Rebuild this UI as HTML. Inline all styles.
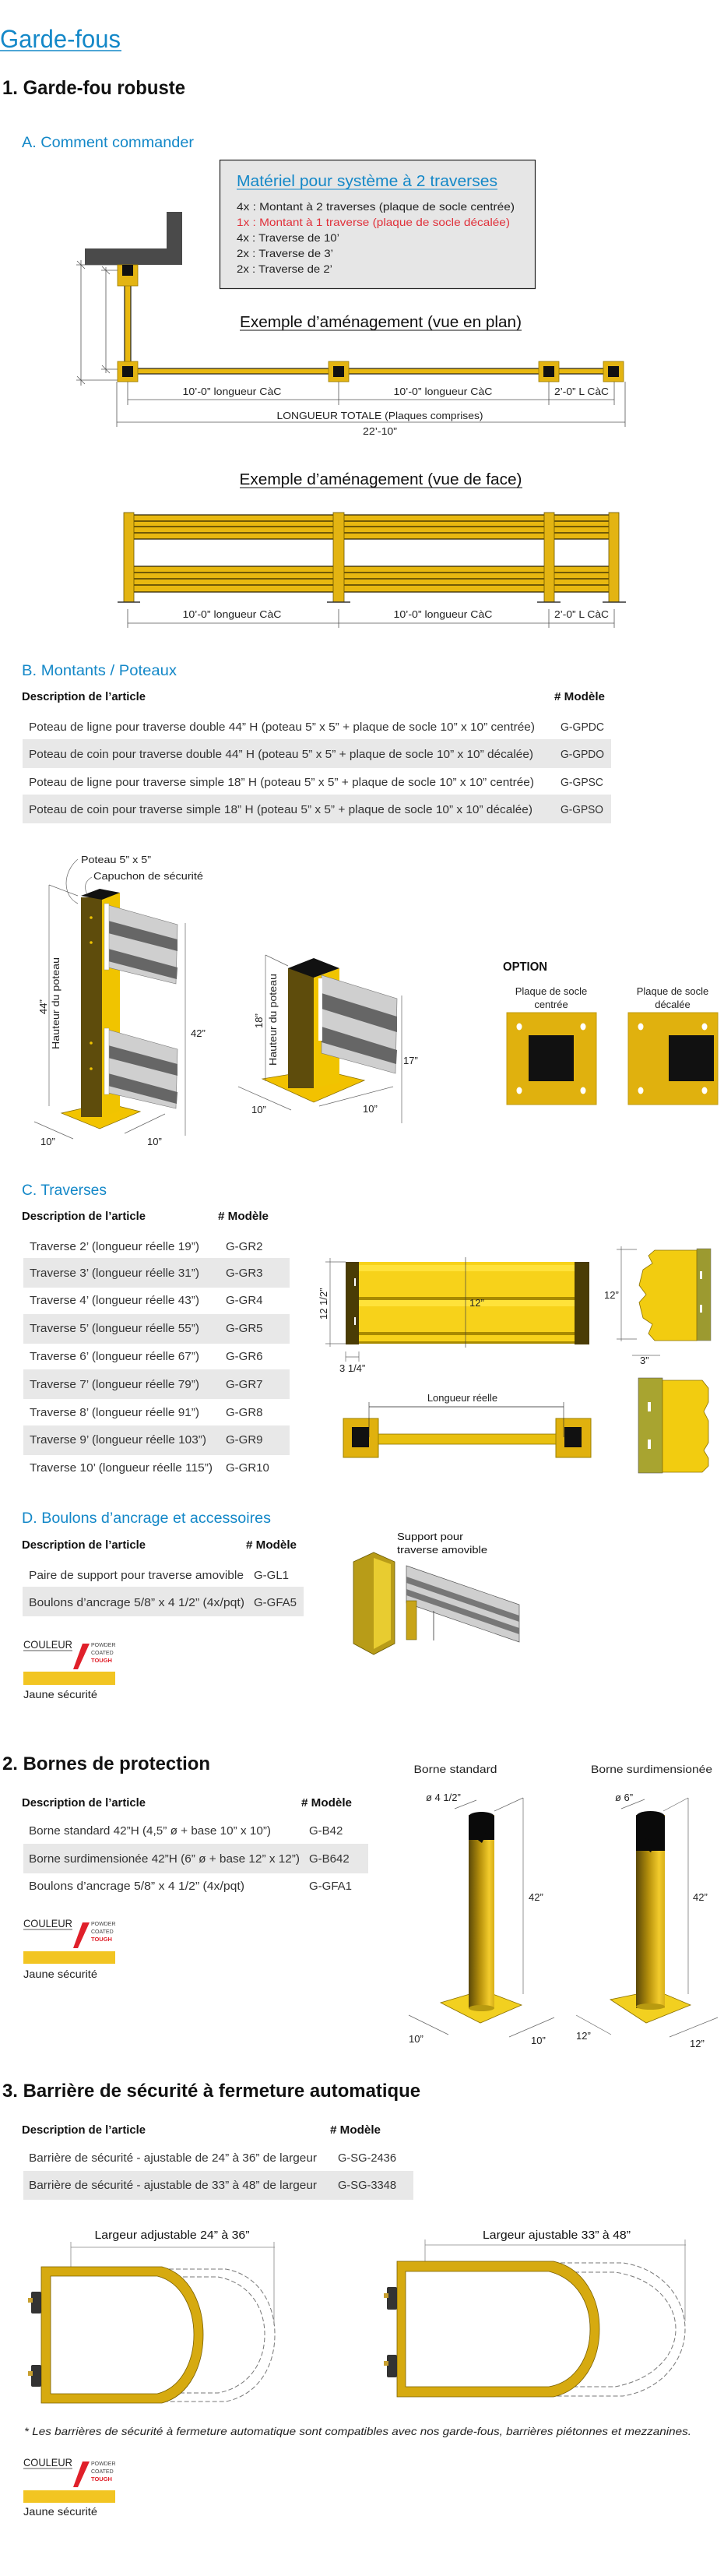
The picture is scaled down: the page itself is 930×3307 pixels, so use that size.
<!DOCTYPE html>
<html><head><meta charset="utf-8"><style>
html,body{margin:0;padding:0;background:#fff;}
svg{display:block;}
.b{font-weight:bold;fill:#111;}
.t{fill:#333;}
.h{fill:#1488c8;}
</style></head><body>
<svg width="930" height="3307" viewBox="0 0 930 3307" xmlns="http://www.w3.org/2000/svg" font-family="Liberation Sans, sans-serif">
<defs>
<linearGradient id="pole" x1="0" x2="1" y1="0" y2="0"><stop offset="0" stop-color="#5a4808"/><stop offset="0.45" stop-color="#b8920c"/><stop offset="0.8" stop-color="#f2cb2c"/><stop offset="1" stop-color="#d8b018"/></linearGradient>
<linearGradient id="grey" x1="0" x2="0" y1="0" y2="1"><stop offset="0" stop-color="#d8d8d8"/><stop offset="0.3" stop-color="#8a8a8a"/><stop offset="0.5" stop-color="#e0e0e0"/><stop offset="0.8" stop-color="#7a7a7a"/><stop offset="1" stop-color="#bbb"/></linearGradient>
</defs>

<!-- Title -->
<text x="0" y="61" font-size="32" class="h" textLength="155" lengthAdjust="spacingAndGlyphs">Garde-fous</text>
<line x1="0" x2="156" y1="65" y2="65" stroke="#1488c8" stroke-width="1.5"/>
<text x="3" y="121" font-size="25" class="b" textLength="235" lengthAdjust="spacingAndGlyphs">1. Garde-fou robuste</text>
<text x="28" y="189" font-size="19" class="h" textLength="221" lengthAdjust="spacingAndGlyphs">A. Comment commander</text>

<!-- Box -->
<rect x="282.5" y="205.5" width="405" height="165" fill="#e6e6e6" stroke="#222" stroke-width="1.2"/>
<text x="304" y="239" font-size="20" class="h" textLength="335" lengthAdjust="spacingAndGlyphs">Matériel pour système à 2 traverses</text>
<line x1="304" x2="639" y1="243" y2="243" stroke="#1488c8" stroke-width="1"/>
<g font-size="14" fill="#222">
<text x="304" y="270" textLength="357" lengthAdjust="spacingAndGlyphs">4x : Montant à 2 traverses (plaque de socle centrée)</text>
<text x="304" y="290" fill="#e0303a" textLength="351" lengthAdjust="spacingAndGlyphs">1x : Montant à 1 traverse (plaque de socle décalée)</text>
<text x="304" y="310" textLength="132" lengthAdjust="spacingAndGlyphs">4x : Traverse de 10’</text>
<text x="304" y="330" textLength="124" lengthAdjust="spacingAndGlyphs">2x : Traverse de 3’</text>
<text x="304" y="350" textLength="123" lengthAdjust="spacingAndGlyphs">2x : Traverse de 2’</text>
</g>

<!-- Plan view -->
<polygon points="109,319 214,319 214,272 234,272 234,340 109,340" fill="#4a4a4a"/>
<g stroke="#555" stroke-width="0.8" fill="none">
<line x1="104" y1="334" x2="104" y2="495"/><line x1="98" y1="340" x2="160" y2="340"/><line x1="98" y1="488" x2="160" y2="488"/>
<line x1="99" y1="335" x2="109" y2="345"/><line x1="99" y1="483" x2="109" y2="493"/>
<line x1="136" y1="343" x2="136" y2="479"/><line x1="130" y1="347" x2="160" y2="347"/><line x1="130" y1="474" x2="160" y2="474"/>
<line x1="131" y1="342" x2="141" y2="352"/><line x1="131" y1="469" x2="141" y2="479"/>
<line x1="164" y1="513" x2="789" y2="513"/>
<line x1="164" y1="490" x2="164" y2="520"/><line x1="435" y1="490" x2="435" y2="520"/><line x1="705" y1="490" x2="705" y2="520"/><line x1="789" y1="490" x2="789" y2="520"/>
<line x1="150" y1="542" x2="803" y2="542"/><line x1="150" y1="490" x2="150" y2="548"/><line x1="803" y1="490" x2="803" y2="548"/>
</g>
<rect x="160" y="353" width="8" height="124" fill="#e8b810" stroke="#222" stroke-width="1.2"/>
<rect x="164" y="473" width="624" height="7" fill="#e8b810" stroke="#222" stroke-width="1.2"/>
<g fill="#e3b412" stroke="#9a7a00" stroke-width="0.8">
<rect x="151" y="340" width="26" height="27"/>
<rect x="151" y="464" width="26" height="26"/>
<rect x="422" y="464" width="26" height="26"/>
<rect x="692" y="464" width="26" height="26"/>
<rect x="775" y="464" width="26" height="26"/>
</g>
<g fill="#111">
<rect x="157" y="340" width="14" height="14"/>
<rect x="157" y="470" width="14" height="14"/>
<rect x="428" y="470" width="14" height="14"/>
<rect x="698" y="470" width="14" height="14"/>
<rect x="781" y="470" width="14" height="14"/>
</g>
<g font-size="13" fill="#222" text-anchor="middle">
<text x="298" y="507" textLength="127" lengthAdjust="spacingAndGlyphs">10’-0” longueur CàC</text>
<text x="569" y="507" textLength="127" lengthAdjust="spacingAndGlyphs">10’-0” longueur CàC</text>
<text x="747" y="507" textLength="70" lengthAdjust="spacingAndGlyphs">2’-0” L CàC</text>
<text x="488" y="538" textLength="265" lengthAdjust="spacingAndGlyphs">LONGUEUR TOTALE (Plaques comprises)</text>
<text x="488" y="558" textLength="44" lengthAdjust="spacingAndGlyphs">22’-10”</text>
</g>
<text x="489" y="420" font-size="20" fill="#111" text-anchor="middle" textLength="362" lengthAdjust="spacingAndGlyphs">Exemple d’aménagement (vue en plan)</text>
<line x1="308" x2="670" y1="424" y2="424" stroke="#111"/>
<text x="489" y="622" font-size="20" fill="#111" text-anchor="middle" textLength="363" lengthAdjust="spacingAndGlyphs">Exemple d’aménagement (vue de face)</text>
<line x1="308" x2="671" y1="626" y2="626" stroke="#111"/>

<!-- Face view -->
<g>
<rect x="172" y="661" width="610" height="31" fill="#e8b810"/>
<rect x="172" y="727" width="610" height="33" fill="#e8b810"/>
<g stroke="#2a2200" stroke-width="1.2">
<line x1="172" x2="782" y1="661" y2="661"/><line x1="172" x2="782" y1="669" y2="669"/><line x1="172" x2="782" y1="676" y2="676"/><line x1="172" x2="782" y1="684" y2="684"/><line x1="172" x2="782" y1="692" y2="692"/>
<line x1="172" x2="782" y1="727" y2="727"/><line x1="172" x2="782" y1="735" y2="735"/><line x1="172" x2="782" y1="743" y2="743"/><line x1="172" x2="782" y1="751" y2="751"/><line x1="172" x2="782" y1="760" y2="760"/>
</g>
<g fill="#e3b412" stroke="#6a5500" stroke-width="0.8">
<rect x="159" y="658" width="13" height="115"/><rect x="428" y="658" width="14" height="115"/><rect x="699" y="658" width="13" height="115"/><rect x="782" y="658" width="13" height="115"/>
</g>
<g stroke="#333" stroke-width="1.5"><line x1="151" x2="180" y1="773" y2="773"/><line x1="420" x2="450" y1="773" y2="773"/><line x1="690" x2="720" y1="773" y2="773"/><line x1="774" x2="804" y1="773" y2="773"/></g>
</g>
<g font-size="13" fill="#222" text-anchor="middle">
<text x="298" y="793" textLength="127" lengthAdjust="spacingAndGlyphs">10’-0” longueur CàC</text>
<text x="569" y="793" textLength="127" lengthAdjust="spacingAndGlyphs">10’-0” longueur CàC</text>
<text x="747" y="793" textLength="70" lengthAdjust="spacingAndGlyphs">2’-0” L CàC</text>
</g>
<g stroke="#555" stroke-width="0.8"><line x1="164" x2="789" y1="800" y2="800"/><line x1="164" x2="164" y1="782" y2="806"/><line x1="435" x2="435" y1="782" y2="806"/><line x1="705" x2="705" y1="782" y2="806"/><line x1="789" x2="789" y1="782" y2="806"/></g>

<!-- B -->
<text x="28" y="867" font-size="19" class="h" textLength="199" lengthAdjust="spacingAndGlyphs">B. Montants / Poteaux</text>
<text x="28" y="899" font-size="15" class="b" textLength="159" lengthAdjust="spacingAndGlyphs">Description de l’article</text>
<text x="712" y="899" font-size="15" class="b" textLength="65" lengthAdjust="spacingAndGlyphs"># Modèle</text>
<rect x="29" y="949" width="756" height="37" fill="#e8e8e8"/>
<rect x="29" y="1020" width="756" height="37" fill="#e8e8e8"/>
<g font-size="15" class="t">
<text x="37" y="938" textLength="650" lengthAdjust="spacingAndGlyphs">Poteau de ligne pour traverse double 44” H (poteau 5” x 5” + plaque de socle 10” x 10” centrée)</text>
<text x="37" y="973" textLength="648" lengthAdjust="spacingAndGlyphs">Poteau de coin pour traverse double 44” H (poteau 5” x 5” + plaque de socle 10” x 10” décalée)</text>
<text x="37" y="1009" textLength="649" lengthAdjust="spacingAndGlyphs">Poteau de ligne pour traverse simple 18” H (poteau 5” x 5” + plaque de socle 10” x 10” centrée)</text>
<text x="37" y="1044" textLength="647" lengthAdjust="spacingAndGlyphs">Poteau de coin pour traverse simple 18” H (poteau 5” x 5” + plaque de socle 10” x 10” décalée)</text>
<text x="720" y="938" textLength="56" lengthAdjust="spacingAndGlyphs">G-GPDC</text>
<text x="720" y="973" textLength="56" lengthAdjust="spacingAndGlyphs">G-GPDO</text>
<text x="720" y="1009" textLength="55" lengthAdjust="spacingAndGlyphs">G-GPSC</text>
<text x="720" y="1044" textLength="55" lengthAdjust="spacingAndGlyphs">G-GPSO</text>
</g>

<!-- Big post -->
<g>
<polygon points="79,1429 128,1449 180,1427 136,1416" fill="#f2c400" stroke="#8a7000" stroke-width="0.8"/>
<rect x="104" y="1152" width="27" height="282" fill="#5e4c0c"/>
<polygon points="131,1152 154,1146 154,1426 131,1434" fill="#f0c400"/>
<polygon points="104,1150 128,1141 154,1146 131,1155" fill="#111"/>
<polygon points="139,1162 228,1187 226,1263 139,1242" fill="#cfcfcf" stroke="#777" stroke-width="0.6"/>
<polygon points="139,1182 228,1206 228,1221 139,1198" fill="#666"/>
<polygon points="139,1218 228,1242 227,1257 139,1234" fill="#666"/>
<polygon points="139,1322 228,1347 226,1423 139,1403" fill="#cfcfcf" stroke="#777" stroke-width="0.6"/>
<polygon points="139,1342 228,1366 228,1381 139,1358" fill="#666"/>
<polygon points="139,1378 228,1402 227,1417 139,1394" fill="#666"/>
<rect x="134" y="1160" width="6" height="85" fill="#fff" stroke="#999" stroke-width="0.5"/>
<rect x="134" y="1320" width="6" height="85" fill="#fff" stroke="#999" stroke-width="0.5"/>
<g fill="#f0c400"><circle cx="117" cy="1178" r="1.8"/><circle cx="117" cy="1210" r="1.8"/><circle cx="117" cy="1339" r="1.8"/><circle cx="117" cy="1372" r="1.8"/></g>
<g stroke="#666" stroke-width="0.7" fill="none">
<line x1="63" y1="1136" x2="63" y2="1420"/><line x1="63" y1="1136" x2="100" y2="1150"/>
<line x1="238" y1="1185" x2="238" y2="1458"/>
<line x1="44" y1="1440" x2="94" y2="1462"/><line x1="160" y1="1455" x2="212" y2="1430"/>
<path d="M100,1103 C80,1120 80,1150 100,1160"/><path d="M118,1126 C108,1132 108,1140 112,1148"/>
</g>
<g font-size="13" fill="#222">
<text x="104" y="1108" textLength="90" lengthAdjust="spacingAndGlyphs">Poteau 5” x 5”</text>
<text x="120" y="1129" textLength="141" lengthAdjust="spacingAndGlyphs">Capuchon de sécurité</text>
<text x="245" y="1331">42”</text>
<text x="52" y="1470">10”</text><text x="189" y="1470">10”</text>
<text transform="translate(60,1302) rotate(-90)">44”</text>
<text transform="translate(76,1347) rotate(-90)" textLength="118" lengthAdjust="spacingAndGlyphs">Hauteur du poteau</text>
</g>
</g>

<!-- Small post -->
<g>
<polygon points="337,1385 403,1415 468,1387 410,1373" fill="#f2c200" stroke="#8a7000" stroke-width="0.8"/>
<rect x="370" y="1243" width="33" height="154" fill="#5e4c0c"/>
<polygon points="403,1255 436,1243 436,1390 403,1397" fill="#f0c400"/>
<polygon points="370,1243 403,1230 436,1243 403,1255" fill="#111"/>
<polygon points="413,1252 510,1282 508,1378 413,1352" fill="#cfcfcf" stroke="#777" stroke-width="0.6"/>
<polygon points="413,1275 510,1305 510,1325 413,1295" fill="#666"/>
<polygon points="413,1318 510,1348 509,1366 413,1338" fill="#666"/>
<rect x="409" y="1256" width="5" height="80" fill="#fff"/>
<g stroke="#666" stroke-width="0.7" fill="none">
<line x1="341" y1="1226" x2="341" y2="1388"/><line x1="341" y1="1226" x2="370" y2="1240"/>
<line x1="516" y1="1278" x2="516" y2="1442"/>
<line x1="306" y1="1395" x2="374" y2="1425"/><line x1="410" y1="1420" x2="505" y2="1395"/>
</g>
<g font-size="13" fill="#222">
<text x="518" y="1366">17”</text>
<text x="323" y="1429">10”</text><text x="466" y="1428">10”</text>
<text transform="translate(337,1320) rotate(-90)">18”</text>
<text transform="translate(355,1368) rotate(-90)" textLength="118" lengthAdjust="spacingAndGlyphs">Hauteur du poteau</text>
</g>
</g>

<!-- OPTION -->
<text x="646" y="1246" font-size="16" class="b" textLength="57" lengthAdjust="spacingAndGlyphs">OPTION</text>
<g font-size="13" fill="#222" text-anchor="middle">
<text x="708" y="1277">Plaque de socle</text><text x="708" y="1294">centrée</text>
<text x="864" y="1277">Plaque de socle</text><text x="864" y="1294">décalée</text>
</g>
<rect x="651" y="1300" width="115" height="118" fill="#e0b10e" stroke="#bf9a10"/>
<rect x="807" y="1300" width="115" height="118" fill="#e0b10e" stroke="#bf9a10"/>
<rect x="679" y="1329" width="58" height="59" fill="#111"/>
<rect x="859" y="1329" width="58" height="59" fill="#111"/>
<g fill="#fff">
<ellipse cx="667" cy="1318" rx="3.5" ry="4.5"/><ellipse cx="749" cy="1318" rx="3.5" ry="4.5"/><ellipse cx="667" cy="1400" rx="3.5" ry="4.5"/><ellipse cx="749" cy="1400" rx="3.5" ry="4.5"/>
<ellipse cx="823" cy="1318" rx="3.5" ry="4.5"/><ellipse cx="905" cy="1318" rx="3.5" ry="4.5"/><ellipse cx="823" cy="1400" rx="3.5" ry="4.5"/><ellipse cx="905" cy="1400" rx="3.5" ry="4.5"/>
</g>

<!-- C Traverses -->
<text x="28" y="1534" font-size="19" class="h" textLength="109" lengthAdjust="spacingAndGlyphs">C. Traverses</text>
<text x="28" y="1566" font-size="15" class="b" textLength="159" lengthAdjust="spacingAndGlyphs">Description de l’article</text>
<text x="280" y="1566" font-size="15" class="b" textLength="65" lengthAdjust="spacingAndGlyphs"># Modèle</text>
<g fill="#e8e8e8">
<rect x="30" y="1615" width="342" height="38"/><rect x="30" y="1687" width="342" height="38"/><rect x="30" y="1758" width="342" height="38"/><rect x="30" y="1830" width="342" height="38"/>
</g>
<g font-size="15" class="t">
<text x="38" y="1605" textLength="218" lengthAdjust="spacingAndGlyphs">Traverse 2’ (longueur réelle 19”)</text>
<text x="38" y="1639" textLength="218" lengthAdjust="spacingAndGlyphs">Traverse 3’ (longueur réelle 31”)</text>
<text x="38" y="1674" textLength="218" lengthAdjust="spacingAndGlyphs">Traverse 4’ (longueur réelle 43”)</text>
<text x="38" y="1710" textLength="218" lengthAdjust="spacingAndGlyphs">Traverse 5’ (longueur réelle 55”)</text>
<text x="38" y="1746" textLength="218" lengthAdjust="spacingAndGlyphs">Traverse 6’ (longueur réelle 67”)</text>
<text x="38" y="1782" textLength="218" lengthAdjust="spacingAndGlyphs">Traverse 7’ (longueur réelle 79”)</text>
<text x="38" y="1818" textLength="218" lengthAdjust="spacingAndGlyphs">Traverse 8’ (longueur réelle 91”)</text>
<text x="38" y="1853" textLength="227" lengthAdjust="spacingAndGlyphs">Traverse 9’ (longueur réelle 103”)</text>
<text x="38" y="1889" textLength="235" lengthAdjust="spacingAndGlyphs">Traverse 10’ (longueur réelle 115”)</text>
<text x="290" y="1605">G-GR2</text><text x="290" y="1639">G-GR3</text><text x="290" y="1674">G-GR4</text><text x="290" y="1710">G-GR5</text><text x="290" y="1746">G-GR6</text><text x="290" y="1782">G-GR7</text><text x="290" y="1818">G-GR8</text><text x="290" y="1853">G-GR9</text><text x="290" y="1889">G-GR10</text>
</g>

<!-- Rail front -->
<g>
<rect x="461" y="1620" width="277" height="105" fill="#f7d21a"/>
<rect x="461" y="1624" width="277" height="8" fill="#ffe23a"/>
<rect x="461" y="1665" width="277" height="4" fill="#a88a00"/>
<rect x="461" y="1669" width="277" height="8" fill="#ffe23a"/>
<rect x="461" y="1710" width="277" height="4" fill="#a88a00"/>
<rect x="461" y="1722" width="277" height="3" fill="#a88a00"/>
<rect x="444" y="1620" width="17" height="106" fill="#4a3c05"/>
<rect x="738" y="1620" width="19" height="106" fill="#4a3c05"/>
<rect x="455" y="1641" width="2" height="10" fill="#fff"/><rect x="455" y="1691" width="2" height="10" fill="#fff"/>
<line x1="598" y1="1614" x2="598" y2="1730" stroke="#444" stroke-width="0.7"/>
<g stroke="#666" stroke-width="0.7"><line x1="424" y1="1615" x2="424" y2="1729"/><line x1="418" y1="1620" x2="444" y2="1620"/><line x1="418" y1="1725" x2="444" y2="1725"/><line x1="444" y1="1742" x2="461" y2="1742"/><line x1="444" y1="1735" x2="444" y2="1748"/><line x1="461" y1="1735" x2="461" y2="1748"/></g>
<text x="603" y="1677" font-size="13" fill="#222">12”</text>
<text transform="translate(420,1694) rotate(-90)" font-size="13" fill="#222">12 1/2”</text>
<text x="436" y="1761" font-size="13" fill="#222">3 1/4”</text>
</g>
<!-- profile -->
<g>
<rect x="895" y="1603" width="18" height="118" fill="#9c9a30" stroke="#666" stroke-width="0.5"/>
<path d="M841,1605 H895 V1721 H841 L833,1712 L838,1700 L826,1692 L821,1672 L830,1662 L821,1650 L826,1630 L838,1622 L833,1612 Z" fill="#f2cc10" stroke="#8a7000" stroke-width="0.8"/>
<rect x="899" y="1632" width="3" height="10" fill="#fff"/><rect x="899" y="1675" width="3" height="10" fill="#fff"/>
<g stroke="#666" stroke-width="0.7"><line x1="798" y1="1600" x2="798" y2="1722"/><line x1="792" y1="1604" x2="818" y2="1604"/><line x1="792" y1="1719" x2="818" y2="1719"/><line x1="812" y1="1740" x2="848" y2="1740"/></g>
<text x="776" y="1667" font-size="13" fill="#222">12”</text>
<text x="822" y="1751" font-size="13" fill="#222">3”</text>
</g>
<!-- plan rail -->
<g>
<rect x="486" y="1841" width="228" height="13" fill="#e8c010" stroke="#8a7000" stroke-width="0.8"/>
<rect x="441" y="1821" width="45" height="50" fill="#e0b10e" stroke="#9a8000"/>
<rect x="714" y="1821" width="45" height="50" fill="#e0b10e" stroke="#9a8000"/>
<rect x="452" y="1832" width="22" height="26" fill="#111"/><rect x="725" y="1832" width="22" height="26" fill="#111"/>
<line x1="474" y1="1806" x2="724" y2="1806" stroke="#222" stroke-width="0.8"/>
<line x1="474" y1="1800" x2="474" y2="1845" stroke="#222" stroke-width="0.6"/><line x1="724" y1="1800" x2="724" y2="1845" stroke="#222" stroke-width="0.6"/>
<text x="594" y="1799" font-size="13" fill="#222" text-anchor="middle">Longueur réelle</text>
</g>
<!-- bracket -->
<g>
<rect x="820" y="1769" width="31" height="122" fill="#a8a430" stroke="#555" stroke-width="0.6"/>
<path d="M851,1772 H902 L910,1782 V1800 L904,1812 L910,1824 V1852 L904,1862 L910,1872 V1882 L902,1890 H851 Z" fill="#f2cc10" stroke="#8a7000" stroke-width="0.8"/>
<rect x="832" y="1800" width="4" height="12" fill="#fff"/><rect x="832" y="1848" width="4" height="12" fill="#fff"/>
</g>

<!-- D -->
<text x="28" y="1955" font-size="19" class="h" textLength="320" lengthAdjust="spacingAndGlyphs">D. Boulons d’ancrage et accessoires</text>
<text x="28" y="1988" font-size="15" class="b" textLength="159" lengthAdjust="spacingAndGlyphs">Description de l’article</text>
<text x="316" y="1988" font-size="15" class="b" textLength="65" lengthAdjust="spacingAndGlyphs"># Modèle</text>
<rect x="29" y="2037" width="361" height="38" fill="#e8e8e8"/>
<g font-size="15" class="t">
<text x="37" y="2027" textLength="276" lengthAdjust="spacingAndGlyphs">Paire de support pour traverse amovible</text>
<text x="37" y="2062" textLength="277" lengthAdjust="spacingAndGlyphs">Boulons d’ancrage 5/8” x 4 1/2” (4x/pqt)</text>
<text x="326" y="2027">G-GL1</text><text x="326" y="2062">G-GFA5</text>
</g>
<g>
<polygon points="454,2005 480,1993 507,2005 507,2110 480,2124 454,2110" fill="#b89c18" stroke="#6a5a00" stroke-width="0.8"/>
<polygon points="480,2000 502,2008 502,2105 480,2117" fill="#e8cc30"/>
<polygon points="522,2010 667,2060 667,2108 522,2058" fill="#cfcfcf" stroke="#555" stroke-width="0.7"/>
<polygon points="522,2024 667,2074 667,2082 522,2032" fill="#777"/>
<polygon points="522,2040 667,2090 667,2098 522,2048" fill="#777"/>
<rect x="522" y="2055" width="13" height="50" fill="#c8a418" stroke="#6a5a00" stroke-width="0.6"/>
<line x1="557" y1="2068" x2="557" y2="2106" stroke="#333" stroke-width="0.8"/>
<text x="510" y="1977" font-size="13" fill="#111" textLength="85" lengthAdjust="spacingAndGlyphs">Support pour</text>
<text x="510" y="1994" font-size="13" fill="#111" textLength="116" lengthAdjust="spacingAndGlyphs">traverse amovible</text>
</g>

<!-- Couleur 1 -->
<g>
<text x="30" y="2116" font-size="14" fill="#222" textLength="63" lengthAdjust="spacingAndGlyphs">COULEUR</text>
<line x1="30" x2="93" y1="2119" y2="2119" stroke="#222" stroke-width="0.8"/>
<polygon points="106,2110 115,2110 100,2143 94,2143" fill="#e0202a"/>
<text x="117" y="2114" font-size="7" fill="#444">POWDER</text><text x="117" y="2124" font-size="7" fill="#444">COATED</text><text x="117" y="2134" font-size="7.5" font-weight="bold" fill="#e0202a">TOUGH</text>
<rect x="30" y="2146" width="118" height="17" fill="#f2c522"/>
<text x="30" y="2180" font-size="14" fill="#222" textLength="95" lengthAdjust="spacingAndGlyphs">Jaune sécurité</text>
</g>

<!-- 2 Bornes -->
<text x="3" y="2272" font-size="24" class="b" textLength="267" lengthAdjust="spacingAndGlyphs">2. Bornes de protection</text>
<text x="585" y="2276" font-size="14" fill="#222" text-anchor="middle" textLength="107" lengthAdjust="spacingAndGlyphs">Borne standard</text>
<text x="837" y="2276" font-size="14" fill="#222" text-anchor="middle" textLength="156" lengthAdjust="spacingAndGlyphs">Borne surdimensionée</text>
<text x="28" y="2319" font-size="15" class="b" textLength="159" lengthAdjust="spacingAndGlyphs">Description de l’article</text>
<text x="387" y="2319" font-size="15" class="b" textLength="65" lengthAdjust="spacingAndGlyphs"># Modèle</text>
<rect x="30" y="2367" width="443" height="38" fill="#e8e8e8"/>
<g font-size="15" class="t">
<text x="37" y="2355" textLength="311" lengthAdjust="spacingAndGlyphs">Borne standard 42”H (4,5” ø + base 10” x 10”)</text>
<text x="37" y="2391" textLength="348" lengthAdjust="spacingAndGlyphs">Borne surdimensionée 42”H (6” ø + base 12” x 12”)</text>
<text x="37" y="2426" textLength="277" lengthAdjust="spacingAndGlyphs">Boulons d’ancrage 5/8” x 4 1/2” (4x/pqt)</text>
<text x="397" y="2355">G-B42</text><text x="397" y="2391">G-B642</text><text x="397" y="2426">G-GFA1</text>
</g>
<g>
<text x="30" y="2474" font-size="14" fill="#222" textLength="63" lengthAdjust="spacingAndGlyphs">COULEUR</text>
<line x1="30" x2="93" y1="2477" y2="2477" stroke="#222" stroke-width="0.8"/>
<polygon points="106,2468 115,2468 100,2501 94,2501" fill="#e0202a"/>
<text x="117" y="2472" font-size="7" fill="#444">POWDER</text><text x="117" y="2482" font-size="7" fill="#444">COATED</text><text x="117" y="2492" font-size="7.5" font-weight="bold" fill="#e0202a">TOUGH</text>
<rect x="30" y="2505" width="118" height="16" fill="#f2c522"/>
<text x="30" y="2539" font-size="14" fill="#222" textLength="95" lengthAdjust="spacingAndGlyphs">Jaune sécurité</text>
</g>
<!-- Bollards -->
<g>
<polygon points="566,2571 617,2597 670,2574 620,2555" fill="#f2d020" stroke="#8a7000" stroke-width="0.8"/>
<rect x="602" y="2330" width="33" height="248" fill="url(#pole)"/>
<ellipse cx="618.5" cy="2578" rx="16.5" ry="4" fill="#b89a10"/>
<path d="M602,2362 V2332 A16.5,6 0 0 1 635,2332 V2362 Z" fill="#0a0a0a"/>
<polygon points="606,2356 612,2350 625,2354 619,2366" fill="#0a0a0a"/>
<g stroke="#666" stroke-width="0.7"><line x1="672" y1="2308" x2="672" y2="2560"/><line x1="635" y1="2325" x2="672" y2="2308"/><line x1="584" y1="2322" x2="612" y2="2311"/><line x1="525" y1="2587" x2="576" y2="2612"/><line x1="654" y1="2615" x2="712" y2="2590"/></g>
<g font-size="13" fill="#222"><text x="547" y="2312">ø 4 1/2”</text><text x="679" y="2440">42”</text><text x="525" y="2622">10”</text><text x="682" y="2624">10”</text></g>
</g>
<g>
<polygon points="784,2567 830,2597 887,2574 842,2555" fill="#f2d020" stroke="#8a7000" stroke-width="0.8"/>
<rect x="817" y="2330" width="37" height="248" fill="url(#pole)"/>
<ellipse cx="835.5" cy="2576" rx="18.5" ry="4" fill="#b89a10"/>
<path d="M817,2376 V2332 A18.5,7 0 0 1 854,2332 V2376 Z" fill="#0a0a0a"/>
<polygon points="821,2366 828,2360 842,2364 836,2378" fill="#0a0a0a"/>
<g stroke="#666" stroke-width="0.7"><line x1="884" y1="2308" x2="884" y2="2560"/><line x1="852" y1="2325" x2="884" y2="2308"/><line x1="798" y1="2322" x2="828" y2="2310"/><line x1="740" y1="2587" x2="785" y2="2612"/><line x1="860" y1="2615" x2="922" y2="2590"/></g>
<g font-size="13" fill="#222"><text x="790" y="2312">ø 6”</text><text x="890" y="2440">42”</text><text x="740" y="2618">12”</text><text x="886" y="2628">12”</text></g>
</g>

<!-- 3 Barriere -->
<text x="3" y="2692" font-size="24" class="b" textLength="537" lengthAdjust="spacingAndGlyphs">3. Barrière de sécurité à fermeture automatique</text>
<text x="28" y="2739" font-size="15" class="b" textLength="159" lengthAdjust="spacingAndGlyphs">Description de l’article</text>
<text x="424" y="2739" font-size="15" class="b" textLength="65" lengthAdjust="spacingAndGlyphs"># Modèle</text>
<rect x="30" y="2787" width="501" height="37" fill="#e8e8e8"/>
<g font-size="15" class="t">
<text x="37" y="2775" textLength="370" lengthAdjust="spacingAndGlyphs">Barrière de sécurité - ajustable de 24” à 36” de largeur</text>
<text x="37" y="2810" textLength="370" lengthAdjust="spacingAndGlyphs">Barrière de sécurité - ajustable de 33” à 48” de largeur</text>
<text x="434" y="2775" textLength="75" lengthAdjust="spacingAndGlyphs">G-SG-2436</text>
<text x="434" y="2810" textLength="75" lengthAdjust="spacingAndGlyphs">G-SG-3348</text>
</g>

<!-- Gates -->
<g font-size="15" fill="#111" text-anchor="middle">
<text x="221" y="2874" textLength="199" lengthAdjust="spacingAndGlyphs">Largeur adjustable 24” à 36”</text>
<text x="715" y="2874" textLength="190" lengthAdjust="spacingAndGlyphs">Largeur ajustable 33” à 48”</text>
</g>
<g stroke="#888" stroke-width="0.8">
<line x1="91" y1="2885" x2="353" y2="2885"/><line x1="91" y1="2878" x2="91" y2="2910"/><line x1="352" y1="2878" x2="352" y2="2985"/>
<line x1="546" y1="2882" x2="881" y2="2882"/><line x1="546" y1="2875" x2="546" y2="2903"/><line x1="880" y1="2875" x2="880" y2="2980"/>
</g>
<g fill="none" stroke="#777" stroke-width="1" stroke-dasharray="6,3">
<path d="M208,2913 H290 C330,2920 353,2955 353,2997 C353,3040 330,3075 290,3083 H208"/>
<path d="M208,2923 H280 C318,2930 340,2960 340,2997 C340,3035 318,3065 280,3072 H208"/>
<path d="M711,2905 H800 C850,2912 880,2950 880,2990 C880,3030 850,3068 800,3076 H711"/>
<path d="M711,2917 H790 C838,2924 868,2955 868,2990 C868,3025 838,3055 790,3064 H711"/>
</g>
<path fill-rule="evenodd" d="M53,2910 H208 C245,2920 261,2960 261,2997 C261,3035 245,3075 208,3085 H53 Z M65,2922 H202 C234,2930 249,2965 249,2997 C249,3030 234,3065 202,3073 H65 Z" fill="#d6aa10" stroke="#7a6000" stroke-width="0.8"/>
<path fill-rule="evenodd" d="M510,2903 H711 C750,2912 770,2950 770,2990 C770,3030 750,3068 711,3077 H510 Z M521,2916 H705 C740,2925 758,2955 758,2990 C758,3025 740,3058 705,3064 H521 Z" fill="#d6aa10" stroke="#7a6000" stroke-width="0.8"/>
<g fill="#333">
<rect x="40" y="2942" width="13" height="28" rx="2"/><rect x="40" y="3036" width="13" height="28" rx="2"/>
<rect x="497" y="2936" width="13" height="29" rx="2"/><rect x="497" y="3023" width="13" height="29" rx="2"/>
</g>
<g fill="#c8a030"><rect x="36" y="2950" width="6" height="6"/><rect x="36" y="3044" width="6" height="6"/><rect x="493" y="2944" width="6" height="6"/><rect x="493" y="3031" width="6" height="6"/></g>

<text x="31" y="3126" font-size="14" font-style="italic" fill="#222" textLength="857" lengthAdjust="spacingAndGlyphs">* Les barrières de sécurité à fermeture automatique sont compatibles avec nos garde-fous, barrières piétonnes et mezzanines.</text>

<g>
<text x="30" y="3166" font-size="14" fill="#222" textLength="63" lengthAdjust="spacingAndGlyphs">COULEUR</text>
<line x1="30" x2="93" y1="3169" y2="3169" stroke="#222" stroke-width="0.8"/>
<polygon points="106,3160 115,3160 100,3193 94,3193" fill="#e0202a"/>
<text x="117" y="3165" font-size="7" fill="#444">POWDER</text><text x="117" y="3175" font-size="7" fill="#444">COATED</text><text x="117" y="3185" font-size="7.5" font-weight="bold" fill="#e0202a">TOUGH</text>
<rect x="30" y="3197" width="118" height="16" fill="#f2c522"/>
<text x="30" y="3229" font-size="14" fill="#222" textLength="95" lengthAdjust="spacingAndGlyphs">Jaune sécurité</text>
</g>
</svg>
</body></html>
